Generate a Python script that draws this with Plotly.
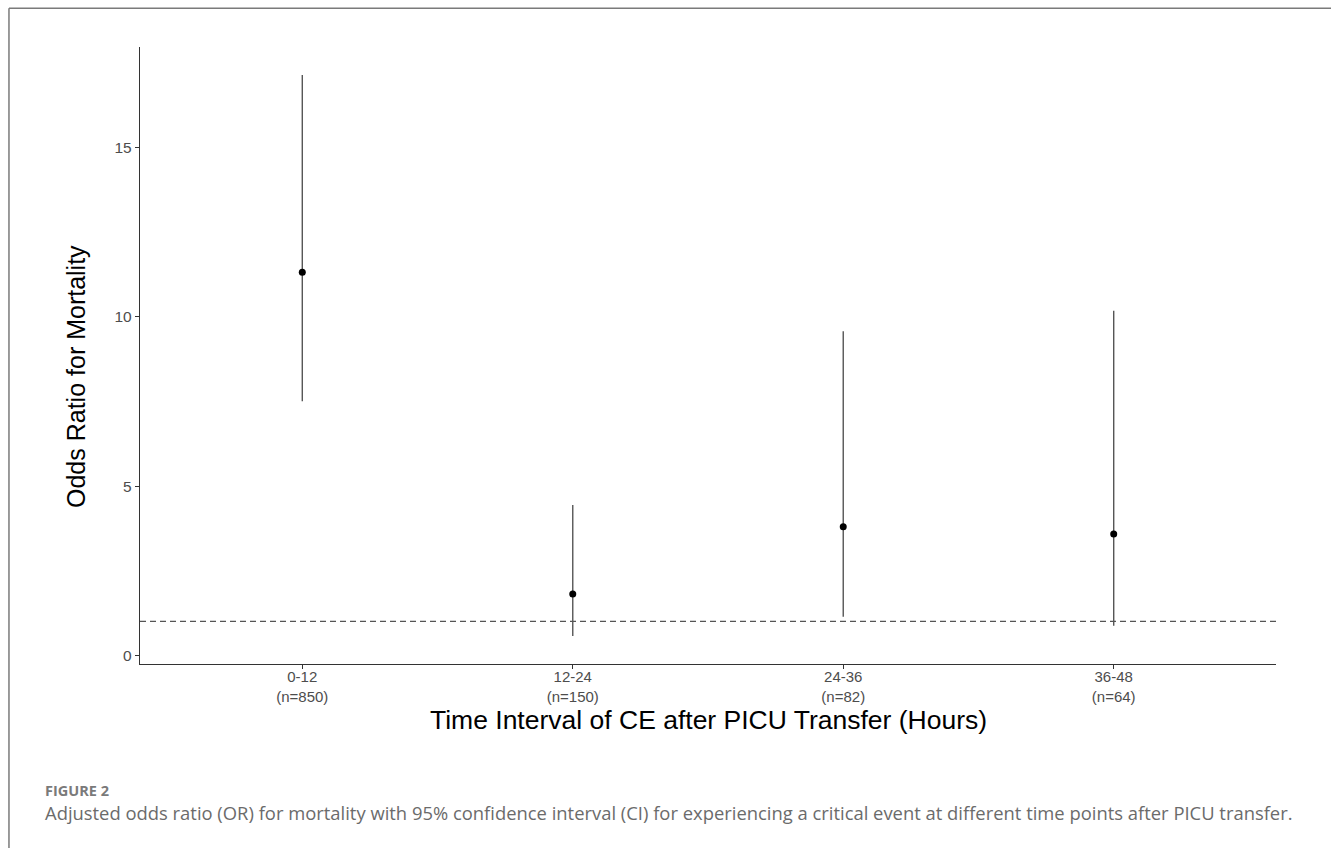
import plotly.graph_objects as go

# ---- data ----
intervals = ["0-12", "12-24", "24-36", "36-48"]
n_counts = [850, 150, 82, 64]
odds_ratio = [11.32, 1.81, 3.80, 3.58]
ci_lower = [7.51, 0.57, 1.14, 0.87]
ci_upper = [17.15, 4.44, 9.58, 10.18]
reference_or = 1
y_ticks = [0, 5, 10, 15]

tick_text = [f"{lab}<br>(n={n})" for lab, n in zip(intervals, n_counts)]
err_plus = [u - o for u, o in zip(ci_upper, odds_ratio)]
err_minus = [o - l for o, l in zip(odds_ratio, ci_lower)]

W, H = 1331, 848
L, R, T, B = 140, 55.3, 46.7, 183.7
PW, PH = W - L - R, H - T - B
font_main = "Liberation Sans, Arial, Helvetica, sans-serif"
font_cap = "Open Sans, Lato, sans-serif"

fig = go.Figure()
fig.add_trace(go.Scatter(
    x=intervals, y=odds_ratio, mode="markers",
    marker=dict(color="black", size=7),
    error_y=dict(type="data", symmetric=False, array=err_plus, arrayminus=err_minus,
                 width=0, thickness=1.4, color="#555555"),
    showlegend=False, hoverinfo="skip",
))

# reference line
fig.add_shape(type="line", xref="paper", x0=0, x1=1, yref="y", y0=reference_or, y1=reference_or,
              line=dict(color="#555555", width=1.2, dash="6px,4px"), layer="below")

# outer frame (top and left borders)
fx = (9 - L) / PW
fy = 1 + (T - 8) / PH
fig.add_shape(type="line", xref="paper", yref="paper",
              x0=fx, x1=(W - L) / PW, y0=fy, y1=fy,
              line=dict(color="#7a7a7a", width=1.5))
fig.add_shape(type="line", xref="paper", yref="paper",
              x0=fx, x1=fx, y0=fy, y1=-(B + 5) / PH,
              line=dict(color="#7a7a7a", width=1.5))

fig.update_xaxes(
    type="category", range=[-0.6, 3.6],
    tickmode="array", tickvals=intervals, ticktext=tick_text,
    showline=True, linecolor="#333333", linewidth=1.4,
    ticks="outside", ticklen=4, tickcolor="#333333", tickwidth=1.2,
    tickfont=dict(family=font_main, size=15, color="#4d4d4d"),
    ticklabelstandoff=-5,
    showgrid=False, zeroline=False,
)
fig.update_yaxes(
    range=[-0.26, 17.98], tickvals=y_ticks,
    showline=True, linecolor="#333333", linewidth=1.4,
    ticks="outside", ticklen=4, tickcolor="#333333", tickwidth=1.2,
    tickfont=dict(family=font_main, size=15.5, color="#4d4d4d"),
    showgrid=False, zeroline=False,
)

annotations = [
    dict(text="Odds Ratio for Mortality", xref="paper", yref="paper", x=0, y=1 - (377 - T) / PH,
         xanchor="center", yanchor="middle", xshift=-64, textangle=-90, showarrow=False,
         font=dict(family=font_main, size=25, color="black")),
    dict(text="Time Interval of CE after PICU Transfer (Hours)", xref="paper", yref="paper", x=0.5, y=0,
         xanchor="center", yanchor="middle", yshift=-(720 - (H - B)), showarrow=False,
         font=dict(family=font_main, size=26.5, color="black")),
    dict(text="<b>FIGURE 2</b>", xref="paper", yref="paper", x=(43 - L) / PW, y=0,
         xanchor="left", yanchor="middle", yshift=-(791 - (H - B)), showarrow=False,
         font=dict(family=font_cap, size=14.5, color="#7a7a7a")),
    dict(text="Adjusted odds ratio (OR) for mortality with 95% confidence interval (CI) for experiencing a critical event at different time points after PICU transfer.",
         xref="paper", yref="paper", x=(43 - L) / PW, y=0,
         xanchor="left", yanchor="middle", yshift=-(813 - (H - B)), showarrow=False,
         font=dict(family=font_cap, size=18.4, color="#6b6b6b")),
]

fig.update_layout(
    width=W, height=H,
    margin=dict(l=L, r=R, t=T, b=B, pad=0),
    paper_bgcolor="white", plot_bgcolor="white",
    annotations=annotations,
)

fig.write_html("out.html", post_script="document.body.style.margin='0px';",
               config={"displayModeBar": False})
